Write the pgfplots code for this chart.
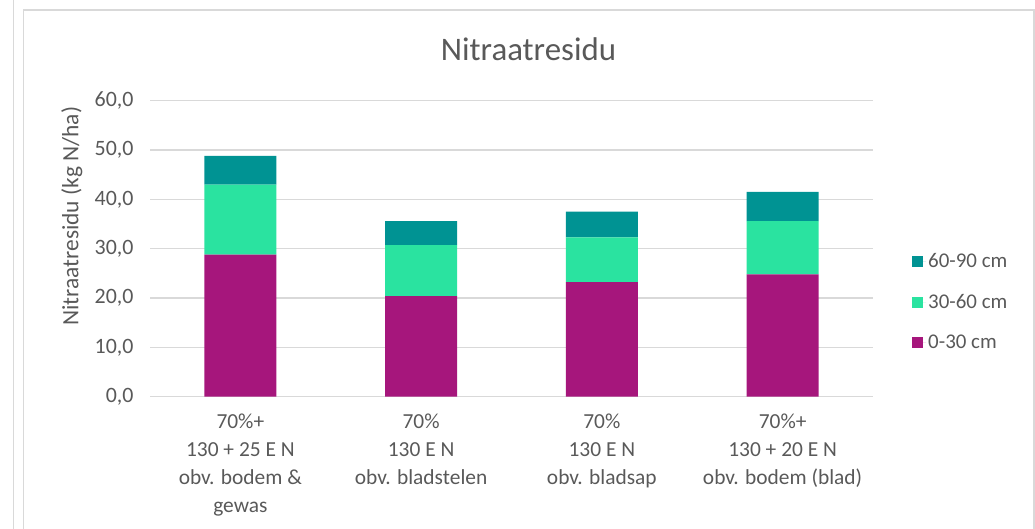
\documentclass[border=0pt]{standalone}
\usepackage{pgfplots}
\pgfplotsset{compat=1.18}
\usepackage{fontspec}
\setmainfont{Carlito}
\definecolor{cPurple}{HTML}{A6167C}
\definecolor{cGreen}{HTML}{2AE3A0}
\definecolor{cTeal}{HTML}{009393}
\definecolor{cText}{HTML}{595959}
\definecolor{cGrid}{HTML}{D9D9D9}
\begin{document}
\begin{tikzpicture}[x=1bp,y=1bp]
\path[use as bounding box] (0bp,0bp) rectangle (1035bp,529bp);
\draw[cGrid, line width=1.2bp] (13.5bp,0bp) -- (13.5bp,529bp);
\draw[cGrid, line width=1.2bp] (23.5bp,0bp) -- (23.5bp,519bp) -- (1034bp,519bp) -- (1034bp,0bp);
\begin{axis}[
  at={(150bp,132.3bp)}, anchor=south west,
  scale only axis, width=723bp, height=296bp,
  ybar stacked, bar width=72bp,
  xmin=-0.5, xmax=3.5, ymin=0, ymax=60,
  ytick={0,10,...,60},
  xtick={0,1,2,3},
  xticklabels={{70\%+\\130 + 25 E N\\obv. bodem \&\\gewas},{70\%\\130 E N\\obv. bladstelen},{70\%\\130 E N\\obv. bladsap},{70\%+\\130 + 20 E N\\obv. bodem (blad)}},
  xticklabel style={align=center, font=\fontsize{21.5}{28}\selectfont, text=cText, yshift=-14bp},
  yticklabel style={font=\fontsize{22}{26}\selectfont, text=cText, xshift=-13bp},
  /pgf/number format/.cd, fixed, fixed zerofill, precision=1, use comma, assume math mode=true, /pgfplots/.cd,
  ymajorgrids, grid style={cGrid, line width=1.2bp},
  axis x line*=bottom, axis y line*=left,
  x axis line style={cGrid, line width=1.2bp, -},
  y axis line style={draw=none},
  major tick length=0,
  title={Nitraatresidu},
  title style={at={(axis description cs:0.5235,1.155)}, anchor=center, font=\fontsize{33}{38}\selectfont, text=cText},
  ylabel={Nitraatresidu (kg N/ha)},
  ylabel style={at={(axis description cs:-0.108,0.61)}, anchor=center, rotate=0, font=\fontsize{23.5}{28}\selectfont, text=cText},
  legend style={at={(axis description cs:1.054,0.32)}, anchor=west, draw=none, fill=none, inner sep=0pt, font=\fontsize{21}{25}\selectfont, text=cText, row sep=21bp},
  legend cell align=left,
  reverse legend,
  legend image code/.code={\fill[#1] (0bp,-5.5bp) rectangle (11bp,5.5bp); \path (0bp,0bp) -- (14bp,0bp);},
]
\addplot[fill=cPurple, draw=none] coordinates {(0,28.8) (1,20.4) (2,23.2) (3,24.8)};
\addplot[fill=cGreen, draw=none] coordinates {(0,14.2) (1,10.3) (2,9.1) (3,10.8)};
\addplot[fill=cTeal, draw=none] coordinates {(0,5.8) (1,4.9) (2,5.2) (3,5.9)};
\legend{0-30 cm, 30-60 cm, 60-90 cm}
\end{axis}
\end{tikzpicture}
\end{document}
